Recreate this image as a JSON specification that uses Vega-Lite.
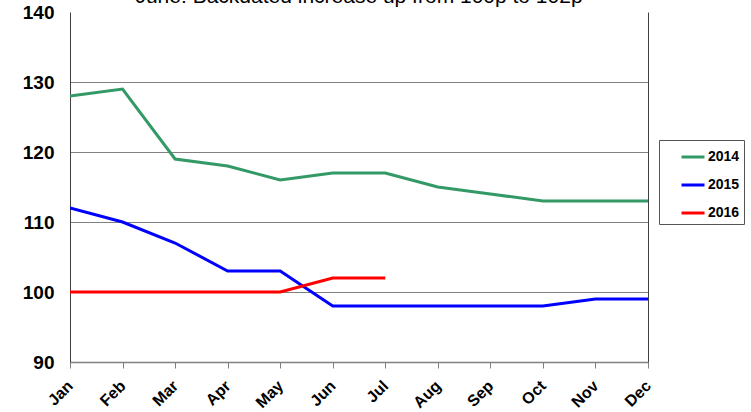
{
  "$schema": "https://vega.github.io/schema/vega-lite/v6.json",
  "width": 578,
  "height": 350,
  "autosize": "none",
  "padding": {"left": 70, "top": 12, "right": 103, "bottom": 50},
  "background": "white",
  "config": {"view": {"stroke": null}, "font": "Liberation Sans"},
  "title": {
    "text": "June: Backdated increase up from 100p to 102p",
    "font": "Liberation Sans",
    "fontSize": 21,
    "fontWeight": 400,
    "color": "#000000",
    "anchor": "middle",
    "frame": "group",
    "baseline": "alphabetic",
    "offset": 0,
    "dy": 21
  },
  "data": {
    "values": [
      {"month": "Jan", "year": "2014", "price": 128},
      {"month": "Feb", "year": "2014", "price": 129},
      {"month": "Mar", "year": "2014", "price": 119},
      {"month": "Apr", "year": "2014", "price": 118},
      {"month": "May", "year": "2014", "price": 116},
      {"month": "Jun", "year": "2014", "price": 117},
      {"month": "Jul", "year": "2014", "price": 117},
      {"month": "Aug", "year": "2014", "price": 115},
      {"month": "Sep", "year": "2014", "price": 114},
      {"month": "Oct", "year": "2014", "price": 113},
      {"month": "Nov", "year": "2014", "price": 113},
      {"month": "Dec", "year": "2014", "price": 113},
      {"month": "Jan", "year": "2015", "price": 112},
      {"month": "Feb", "year": "2015", "price": 110},
      {"month": "Mar", "year": "2015", "price": 107},
      {"month": "Apr", "year": "2015", "price": 103},
      {"month": "May", "year": "2015", "price": 103},
      {"month": "Jun", "year": "2015", "price": 98},
      {"month": "Jul", "year": "2015", "price": 98},
      {"month": "Aug", "year": "2015", "price": 98},
      {"month": "Sep", "year": "2015", "price": 98},
      {"month": "Oct", "year": "2015", "price": 98},
      {"month": "Nov", "year": "2015", "price": 99},
      {"month": "Dec", "year": "2015", "price": 99},
      {"month": "Jan", "year": "2016", "price": 100},
      {"month": "Feb", "year": "2016", "price": 100},
      {"month": "Mar", "year": "2016", "price": 100},
      {"month": "Apr", "year": "2016", "price": 100},
      {"month": "May", "year": "2016", "price": 100},
      {"month": "Jun", "year": "2016", "price": 102},
      {"month": "Jul", "year": "2016", "price": 102}
    ]
  },
  "layer": [
    {
      "mark": {"type": "line", "strokeWidth": 3, "strokeJoin": "miter", "clip": true},
      "encoding": {
        "x": {
          "field": "month",
          "type": "ordinal",
          "sort": ["Jan","Feb","Mar","Apr","May","Jun","Jul","Aug","Sep","Oct","Nov","Dec"],
          "scale": {"type": "point", "padding": 0},
          "axis": {
            "title": null,
            "labelAngle": -45,
            "labelAlign": "right",
            "labelBaseline": "middle",
            "labelFont": "Liberation Sans",
            "labelFontWeight": "bold",
            "labelFontSize": 16,
            "labelColor": "#000000",
            "labelPadding": 15,
            "tickColor": "#808080",
            "tickSize": 6,
            "domainColor": "#808080",
            "domainWidth": 1.5,
            "grid": false
          }
        },
        "y": {
          "field": "price",
          "type": "quantitative",
          "scale": {"domain": [90, 140], "nice": false, "zero": false},
          "axis": {
            "title": null,
            "values": [90, 100, 110, 120, 130, 140],
            "labelFont": "Liberation Sans",
            "labelFontWeight": "bold",
            "labelFontSize": 19,
            "labelColor": "#000000",
            "labelPadding": 16,
            "ticks": false,
            "domainColor": "#404040",
            "domainWidth": 1,
            "grid": true,
            "gridColor": "#808080",
            "gridWidth": 1,
            "gridOpacity": {"condition": {"test": "datum.value == 140 || datum.value == 90", "value": 0}, "value": 1}
          }
        },
        "color": {
          "field": "year",
          "type": "nominal",
          "scale": {"domain": ["2014", "2015", "2016"], "range": ["#339966", "#0000ff", "#ff0000"]},
          "legend": {
            "title": null,
            "orient": "none",
            "legendX": 589,
            "legendY": 128,
            "symbolType": "stroke",
            "symbolSize": 529,
            "symbolStrokeWidth": 3,
            "symbolOffset": 17,
            "padding": 4,
            "rowPadding": 8,
            "labelOffset": 2,
            "labelFont": "Liberation Sans",
            "labelFontWeight": "bold",
            "labelFontSize": 14,
            "labelColor": "#000000",
            "strokeColor": "#555555",
            "fillColor": "white"
          }
        }
      }
    },
    {
      "mark": {"type": "rule", "opacity": 0},
      "encoding": {
        "y": {
          "field": "price",
          "type": "quantitative",
          "axis": {"orient": "right", "title": null, "labels": false, "ticks": false, "grid": false, "domainColor": "#404040", "domainWidth": 1}
        }
      }
    }
  ],
  "resolve": {"axis": {"y": "independent"}}
}
